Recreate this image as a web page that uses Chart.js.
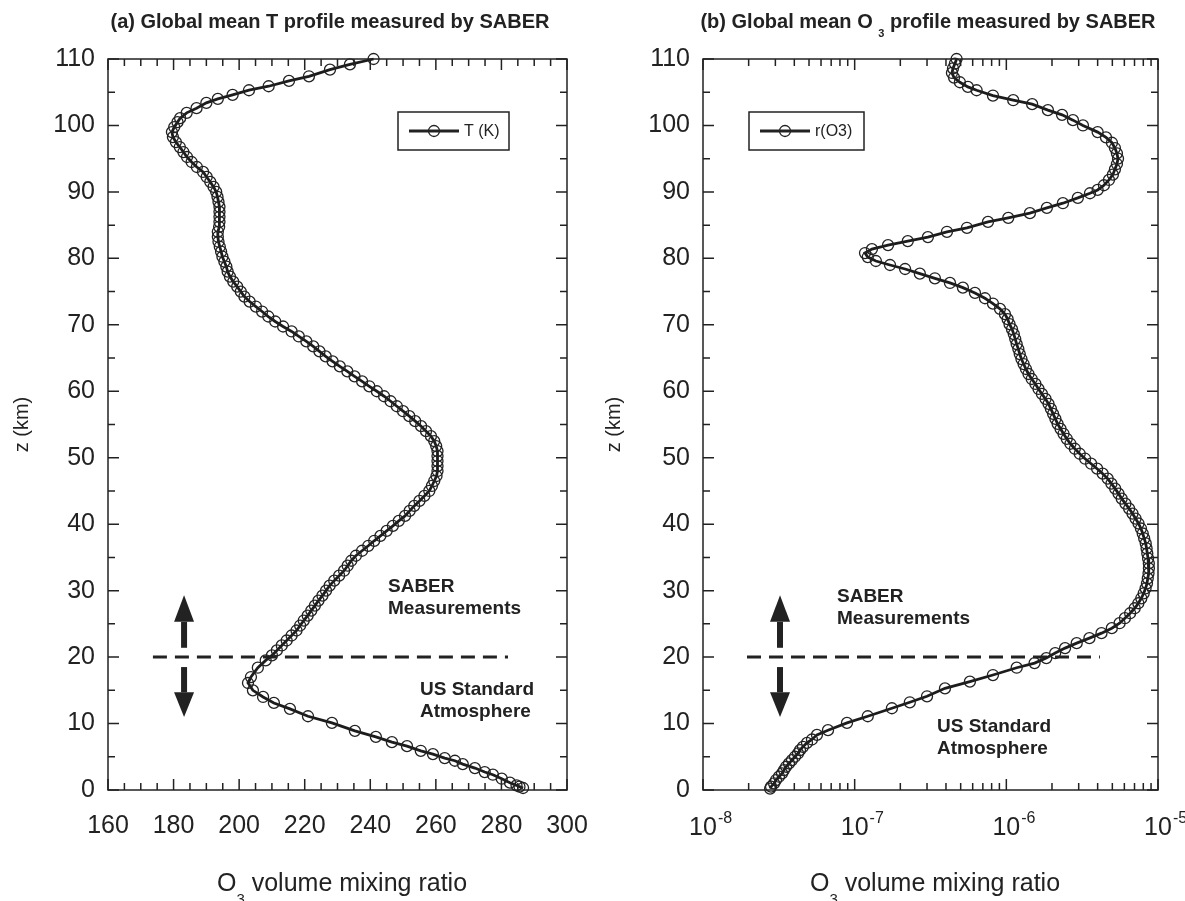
<!DOCTYPE html>
<html>
<head>
<meta charset="utf-8">
<script src="https://cdn.jsdelivr.net/npm/chart.js@4.4.1/dist/chart.umd.min.js"></script>
<style>
body{margin:0;background:#fff;font-family:"Liberation Sans",Arial,sans-serif;color:#222}
#page{position:relative;width:1185px;height:901px;overflow:hidden;background:#fff}
canvas{position:absolute;top:0}
.ttl{position:absolute;top:10px;font-weight:bold;font-size:20px;line-height:22px;white-space:nowrap;transform:translateX(-50%)}
.ttl sub{font-size:11px;vertical-align:-9px}
.xt{position:absolute;top:870px;font-size:25px;line-height:25px;white-space:nowrap;transform:translateX(-50%)}
.xt sub{font-size:15px;vertical-align:-13px}
.note{position:absolute;font-weight:bold;font-size:19px;line-height:22px;white-space:nowrap}
</style>
</head>
<body>
<div id="page">
<canvas id="chartT" width="610" height="901" style="left:0"></canvas>
<canvas id="chartO3" width="593" height="901" style="left:592px"></canvas>

<div class="ttl" style="left:330px">(a) Global mean T profile measured by SABER</div>
<div class="ttl" style="left:928px">(b) Global mean O <sub>3</sub> profile measured by SABER</div>

<div class="xt" style="left:342px">O<sub>3</sub> volume mixing ratio</div>
<div class="xt" style="left:935px">O<sub>3</sub> volume mixing ratio</div>

<div class="note" style="left:388px;top:575px">SABER<br>Measurements</div>
<div class="note" style="left:420px;top:678px">US Standard<br>Atmosphere</div>
<div class="note" style="left:837px;top:585px">SABER<br>Measurements</div>
<div class="note" style="left:937px;top:715px">US Standard<br>Atmosphere</div>
</div>

<script>

/* -------- DATA: temperature profile (a) -------- */

const tAlt = [110,109.2,108.4,107.4,106.7,105.9,105.3,104.6,104,103.4,102.6,101.9,101.1,
100.5,99.75,99,98.25,97.5,96.75,96,95.25,94.5,93.75,93,92.25,91.5,90.75,90,89.25,88.5,87.75,87,86.25,85.5,84.75,84,83.25,82.5,81.75,81,80.25,
79.5,78.75,78,77.25,76.5,75.75,75,74.25,73.5,72.75,72,71.25,70.5,69.75,69,68.25,67.5,66.75,66,65.25,64.5,63.75,63,62.25,61.5,60.75,60,
59.25,58.5,57.75,57,56.25,55.5,54.75,54,53.25,52.5,51.75,51,50.25,49.5,48.75,48,47.25,46.5,45.75,45,44.25,43.5,42.75,42,41.25,40.5,39.75,
39,38.25,37.5,36.75,36,35.25,34.5,33.75,33,32.25,31.5,30.75,30,29.25,28.5,27.75,27,26.25,25.5,24.75,24,23.25,22.5,21.75,21,20.25,19.5,
18.4,17,16.1,15,14,13.1,12.2,11.1,10.1,8.9,8,7.2,6.6,5.9,5.4,4.8,4.4,3.9,3.3,2.7,2.3,1.7,1.1,0.7,0.5,0.3];

const tVal = [241,233.8,227.7,221.3,215.2,209,203,198,193.5,190,187,184,182,
181.2,180.2,179.5,179.8,180.7,181.9,183,184.1,185.5,187.1,189,190.1,191.2,192.2,193,193.4,193.7,194,194,194,194,193.9,193.5,193.5,193.7,194.1,194.5,194.9,
195.5,196.1,196.5,197.2,198.2,199.4,200.5,201.6,203.2,205.1,207,208.9,211,213.4,216,218.2,220.5,222.6,224.5,226.4,228.5,230.7,233,235.2,237.5,239.7,242,
244.2,246.2,248.1,250,251.9,253.7,255.5,257,258.5,259.5,260.1,260.5,260.5,260.5,260.5,260.5,260.2,259.5,258.8,258,256.5,255,253.4,252,250.6,248.7,246.9,
245,243.1,241.2,239.4,237.5,235.6,234.2,233.1,232,230.5,229,227.6,226.5,225.4,224.2,223.1,222,220.9,219.7,218.6,217.5,216,214.5,213,211.5,210,208.1,
205.7,203.6,202.7,204.2,207.3,210.6,215.5,221,228.3,235.3,241.7,246.6,251.2,255.4,259.1,262.7,265.8,268.2,271.9,274.9,277.4,280.1,282.6,284.6,285.5,286.6];

/* -------- DATA: ozone profile (b) -------- */

const o3Alt = [110,109.3,108.6,107.9,107.2,106.5,105.8,105.3,104.5,103.8,103.2,102.3,101.6,100.8,100,99,
98.2,97.4,96.6,95.8,95,94.2,93.4,92.6,91.8,91,90.3,89.8,89.1,88.3,87.6,86.8,86.1,85.5,84.6,84,83.2,82.6,82,81.4,80.8,
80.2,79.6,79,78.4,77.7,77,76.3,75.6,74.8,74,73.2,72.4,71.6,
70.85,70.1,69.35,68.6,67.85,67.1,66.35,65.6,64.85,64.1,63.35,62.6,61.85,61.1,60.35,59.6,58.85,58.1,57.35,56.6,55.85,55.1,54.35,53.6,52.85,52.1,
51.35,50.6,49.85,49.1,48.35,47.6,46.85,46.1,45.35,44.6,43.85,43.1,42.35,41.6,40.85,40.1,39.35,38.6,37.85,37.1,36.35,35.6,34.85,34.1,33.35,
32.6,31.85,31.1,30.35,29.6,28.85,28.1,27.35,26.6,25.85,25.1,24.35,23.6,22.85,22.1,21.35,20.6,19.85,19.1,
18.4,17.3,16.3,15.3,14.1,13.2,12.3,11.1,10.1,9,8.3,7.6,7.1,6.5,6,5.5,5,4.5,4,3.5,3,2.5,2,1.5,1,0.5,0.2];

const o3Val = [4.7e-7,4.58e-7,4.45e-7,4.38e-7,4.52e-7,4.94e-7,5.58e-7,6.37e-7,8.16e-7,1.11e-6,1.48e-6,1.88e-6,2.33e-6,2.75e-6,3.2e-6,4.0e-6,
4.54e-6,4.97e-6,5.2e-6,5.36e-6,5.45e-6,5.36e-6,5.2e-6,5.04e-6,4.75e-6,4.4e-6,4.0e-6,3.56e-6,2.96e-6,2.36e-6,1.85e-6,1.43e-6,1.03e-6,7.57e-7,5.5e-7,4.06e-7,3.04e-7,2.24e-7,1.66e-7,1.3e-7,1.17e-7,
1.22e-7,1.38e-7,1.71e-7,2.15e-7,2.69e-7,3.38e-7,4.25e-7,5.17e-7,6.21e-7,7.23e-7,8.16e-7,9.08e-7,9.79e-7,
1.02e-6,1.05e-6,1.09e-6,1.12e-6,1.145e-6,1.17e-6,1.2e-6,1.226e-6,1.258e-6,1.3e-6,1.347e-6,1.4e-6,1.47e-6,1.555e-6,1.63e-6,1.717e-6,1.813e-6,1.898e-6,1.968e-6,2.034e-6,2.106e-6,2.178e-6,2.277e-6,2.383e-6,2.502e-6,2.646e-6,
2.829e-6,3.047e-6,3.307e-6,3.622e-6,3.968e-6,4.32e-6,4.66e-6,4.93e-6,5.22e-6,5.49e-6,5.76e-6,6.1e-6,6.45e-6,6.79e-6,7.11e-6,7.44e-6,7.72e-6,7.93e-6,8.11e-6,8.3e-6,8.41e-6,8.5e-6,8.6e-6,8.7e-6,8.71e-6,
8.66e-6,8.56e-6,8.46e-6,8.28e-6,8.05e-6,7.76e-6,7.42e-6,7.02e-6,6.55e-6,6.05e-6,5.58e-6,4.96e-6,4.24e-6,3.53e-6,2.91e-6,2.44e-6,2.1e-6,1.835e-6,1.535e-6,
1.17e-6,8.16e-7,5.75e-7,3.94e-7,3.0e-7,2.31e-7,1.76e-7,1.22e-7,8.9e-8,6.67e-8,5.64e-8,5.23e-8,4.85e-8,4.56e-8,4.36e-8,4.23e-8,4.04e-8,3.86e-8,3.69e-8,3.53e-8,3.42e-8,3.32e-8,3.17e-8,3.03e-8,2.94e-8,2.81e-8,2.77e-8];

/* -------- AXES / TICKS -------- */

const altTicks = [0,10,20,30,40,50,60,70,80,90,100,110];
const tTicks = [160,180,200,220,240,260,280,300];
const o3TickExp = [-8,-7,-6,-5];

/* -------- ANNOTATIONS (data coords) -------- */

const boundaryAlt = 20;
const tDash = [173.7,282];
const o3Dash = [1.95e-8,4.14e-6];
const tArrowX = 183.2;
const o3ArrowX = 3.22e-8;
const arrowUp = [21.4,25.3,29.3];   // shaft bottom, head base, tip
const arrowDown = [18.5,14.7,11.0];

Chart.defaults.font.family = '"Liberation Sans", Arial, sans-serif';
Chart.defaults.color = "#222";
Chart.defaults.animation = false;

const INK = "#222";

/* -------- frame + inward ticks -------- */

const frameTicks = {
id:"frameTicks",
afterDatasetsDraw(chart, args, opts){
const {ctx, chartArea:a, scales:{x,y}} = chart;
ctx.save();
ctx.strokeStyle = INK;
ctx.lineWidth = 1.5;
ctx.strokeRect(a.left, a.top, a.right-a.left, a.bottom-a.top);
ctx.beginPath();
for(let v=0; v<=110; v+=5){
const py = y.getPixelForValue(v);
const len = v%10===0 ? 11 : 7;
ctx.moveTo(a.left,py); ctx.lineTo(a.left+len,py);
ctx.moveTo(a.right,py); ctx.lineTo(a.right-len,py);
}
let xt = [];
if(opts.log){
for(let e=-8; e<=-5; e++){
xt.push({v:Math.pow(10,e), major:true});
if(e<-5){
for(let k=2;k<=9;k++) xt.push({v:k*Math.pow(10,e), major:false});
}
}
}else{
for(let v=160; v<=300; v+=5) xt.push({v:v, major:v%20===0});
}
xt.forEach(t=>{
const px = x.getPixelForValue(t.v);
const len = t.major ? 11 : 7;
ctx.moveTo(px,a.bottom); ctx.lineTo(px,a.bottom-len);
ctx.moveTo(px,a.top); ctx.lineTo(px,a.top+len);
});
ctx.stroke();
ctx.restore();
}
};

/* -------- dashed boundary + arrows -------- */

const boundary = {
id:"boundary",
beforeDatasetsDraw(chart, args, opts){
const {ctx, scales:{x,y}} = chart;
ctx.save();
ctx.strokeStyle = INK;
ctx.lineWidth = 3;
ctx.setLineDash([14,8]);
ctx.beginPath();
const by = y.getPixelForValue(boundaryAlt);
ctx.moveTo(x.getPixelForValue(opts.dash[0]), by);
ctx.lineTo(x.getPixelForValue(opts.dash[1]), by);
ctx.stroke();
ctx.setLineDash([]);

const ax = x.getPixelForValue(opts.arrowX);
ctx.fillStyle = INK;
ctx.lineWidth = 6;
[arrowUp, arrowDown].forEach(ar=>{
const y0 = y.getPixelForValue(ar[0]);
const y1 = y.getPixelForValue(ar[1]);
const y2 = y.getPixelForValue(ar[2]);
ctx.beginPath();
ctx.moveTo(ax,y0); ctx.lineTo(ax,y1);
ctx.stroke();
ctx.beginPath();
ctx.moveTo(ax-10,y1); ctx.lineTo(ax+10,y1); ctx.lineTo(ax,y2);
ctx.closePath();
ctx.fill();
});
ctx.restore();
}
};

/* -------- legend box -------- */

const legendBox = {
id:"legendBox",
afterDraw(chart, args, opts){
const ctx = chart.ctx;
const b = opts.box;
ctx.save();
ctx.strokeStyle = INK;
ctx.lineWidth = 1.5;
ctx.strokeRect(b[0], b[1], b[2], b[3]);
const my = b[1]+b[3]/2;
ctx.lineWidth = 2.8;
ctx.beginPath();
ctx.moveTo(b[0]+11,my); ctx.lineTo(b[0]+61,my);
ctx.stroke();
ctx.lineWidth = 1.3;
ctx.beginPath();
ctx.arc(b[0]+36,my,5.5,0,Math.PI*2);
ctx.stroke();
ctx.fillStyle = INK;
ctx.font = '16px "Liberation Sans", Arial, sans-serif';
ctx.textBaseline = "middle";
ctx.fillText(opts.text, b[0]+66, my+1);
ctx.restore();
}
};

/* -------- log tick labels 10^n -------- */

const powLabels = {
id:"powLabels",
afterDraw(chart){
const {ctx, scales:{x}} = chart;
ctx.save();
ctx.fillStyle = INK;
o3TickExp.forEach(e=>{
const px = x.getPixelForValue(Math.pow(10,e));
ctx.font = '25px "Liberation Sans", Arial, sans-serif';
ctx.textAlign = "center";
ctx.textBaseline = "alphabetic";
const w = ctx.measureText("10").width;
ctx.fillText("10", px, 835);
ctx.font = '16px "Liberation Sans", Arial, sans-serif';
ctx.textAlign = "left";
ctx.fillText(String(e), px + w/2 + 1, 823);
});
ctx.restore();
}
};

function lineSet(label, xs, ys){
return {
label:label,
data: ys.map((z,i)=>({x:xs[i], y:z})),
showLine:true,
borderColor:"#1c1c1c",
borderWidth:2.8,
pointStyle:"circle",
pointRadius:5.5,
pointBorderColor:"#222",
pointBorderWidth:1.3,
pointBackgroundColor:"rgba(255,255,255,0)",
clip:false
};
}

function yAxis(width){
return {
min:0, max:110,
afterBuildTicks: s=>{ s.ticks = altTicks.map(v=>({value:v})); },
ticks:{font:{size:25}, padding:13, color:INK},
grid:{display:false, drawTicks:false},
border:{display:false},
title:{display:true, text:"z (km)", font:{size:20}, color:INK, padding:{top:10,bottom:0}},
afterFit: s=>{ s.width = width; }
};
}

/* -------- CHART (a) -------- */

new Chart(document.getElementById("chartT"),{
type:"scatter",
data:{datasets:[lineSet("T (K)", tVal, tAlt)]},
options:{
responsive:false,
layout:{padding:{top:59, right:43, left:0, bottom:0}},
plugins:{
legend:{display:false},
tooltip:{enabled:false},
frameTicks:{log:false},
boundary:{dash:tDash, arrowX:tArrowX},
legendBox:{box:[398,112,111,38], text:"T (K)"}
},
scales:{
x:{
type:"linear", min:160, max:300,
afterBuildTicks: s=>{ s.ticks = tTicks.map(v=>({value:v})); },
ticks:{font:{size:25}, padding:21, color:INK},
grid:{display:false, drawTicks:false},
border:{display:false},
afterFit: s=>{ s.height = 111; }
},
y:yAxis(108)
}
},
plugins:[frameTicks, boundary, legendBox]
});

/* -------- CHART (b) -------- */

new Chart(document.getElementById("chartO3"),{
type:"scatter",
data:{datasets:[lineSet("r(O3)", o3Val, o3Alt)]},
options:{
responsive:false,
layout:{padding:{top:59, right:27, left:0, bottom:0}},
plugins:{
legend:{display:false},
tooltip:{enabled:false},
frameTicks:{log:true},
boundary:{dash:o3Dash, arrowX:o3ArrowX},
legendBox:{box:[157,112,115,38], text:"r(O3)"}
},
scales:{
x:{
type:"logarithmic", min:1e-8, max:1e-5,
ticks:{display:false},
grid:{display:false, drawTicks:false},
border:{display:false},
afterFit: s=>{ s.height = 111; }
},
y:yAxis(111)
}
},
plugins:[frameTicks, boundary, legendBox, powLabels]
});

</script>
</body>
</html>
